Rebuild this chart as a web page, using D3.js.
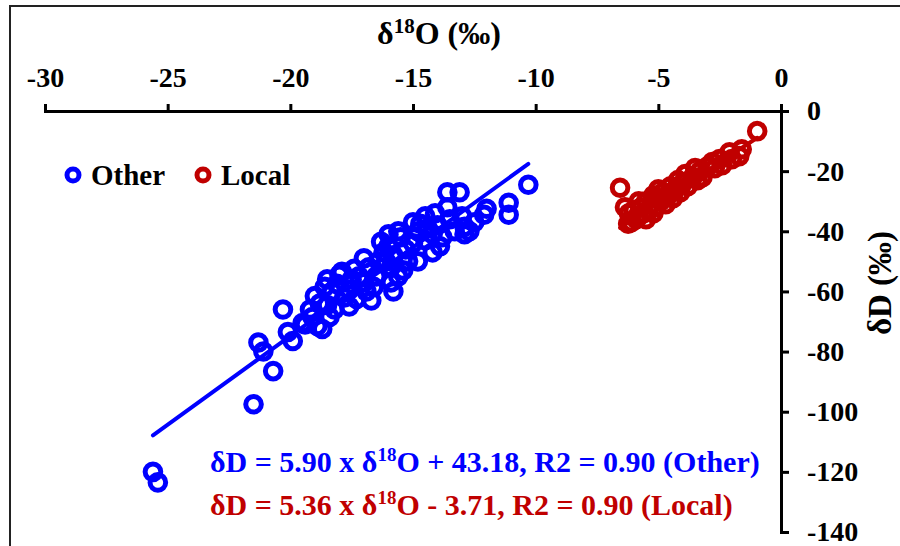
<!DOCTYPE html>
<html>
<head>
<meta charset="utf-8">
<script src="https://cdn.jsdelivr.net/npm/d3@7"></script>
<style>
  body { margin: 0; background: #fff; }
  svg { font-family: "Liberation Serif", "Times New Roman", serif; font-weight: bold; }
  .axis path, .axis line { stroke: #000; stroke-width: 3; }
  .axis text { font-size: 28px; font-weight: bold; fill: #000; font-family: "Liberation Serif", serif; }
</style>
</head>
<body>
<div id="chart"></div>
<script>
'use strict';

// "Other" samples: d18O, dD
const otherX = [-25.6, -25.4, -21.5, -20.7, -21.3, -21.1, -20.3, -20.1, -19.9, -19.5,
  -19.1, -18.7, -19.4, -18.9, -18.4, -18.5, -19.0, -18.6, -18.1, -18.0,
  -17.6, -17.6, -18.2, -17.8, -17.4, -17.2, -17.0, -16.9, -17.3, -16.6,
  -16.5, -16.8, -16.4, -16.2, -16.3, -16.0, -15.8, -15.9, -15.8, -15.6,
  -15.6, -15.5, -15.3, -15.2, -15.0, -15.0, -14.8, -14.8, -14.7, -14.5,
  -14.4, -14.2, -14.0, -13.9, -13.8, -13.6, -13.1, -13.6, -13.5, -13.3,
  -12.9, -12.9, -12.7, -12.1, -12.0, -11.1, -11.1, -10.3, -14.2, -14.5,
  -16.0, -17.0, -17.5, -18.3, -18.8, -19.2, -16.7, -15.9, -15.4, -16.1,
  -17.9, -18.5, -13.0, -12.5, -14.1];
const otherY = [-120, -123.5, -97.5, -86.5, -77, -80, -66, -73.5, -76.5, -70.5,
  -68.5, -72.5, -71, -71.5, -68.5, -64.5, -61.5, -58.5, -57.5, -54.5,
  -59.5, -65, -66, -62, -52.5, -55, -57, -60, -62.5, -58.5,
  -55, -52, -50, -47, -43.5, -45, -48, -52, -60, -55,
  -40, -42, -46, -50, -37, -44, -50, -40, -37.5, -43,
  -39, -41, -38, -45, -42, -27, -27, -32, -36, -40,
  -41, -38.5, -40, -34.5, -32.5, -30.5, -34.5, -24.5, -47, -35,
  -41, -49, -56, -60, -64, -66, -63, -57, -53, -50,
  -53.5, -56, -35, -37, -34];

// "Local" samples: d18O, dD
const localX = [-0.97, -1.6, -1.7, -2.1, -2.5, -2.8, -3.0, -2.7, -3.3, -3.5,
  -3.6, -3.9, -4.0, -4.2, -4.3, -4.5, -4.6, -4.8, -4.9, -5.0,
  -5.1, -5.2, -5.3, -5.4, -5.5, -5.6, -5.7, -5.8, -5.9, -6.0,
  -6.1, -6.23, -6.36, -6.56, -5.5, -5.2, -4.7, -4.4, -3.8, -3.2,
  -2.4, -2.0, -5.8, -6.2, -4.1, -3.4, -5.0];
const localY = [-6.7, -12.7, -15, -13.7, -16, -17, -18.5, -19, -20, -19,
  -22, -21, -24, -23, -26, -25, -28, -27, -30, -29,
  -32, -28, -31, -33, -30, -34, -32, -35, -36, -33,
  -37, -37.5, -32, -25.5, -36, -34, -31, -29, -25, -22,
  -18, -16, -30, -34, -27, -23, -26];

const xTicks = [-30, -25, -20, -15, -10, -5, 0];
const yTicks = [0, -20, -40, -60, -80, -100, -120, -140];

// trendlines: [slope, intercept, r2]
const fitOther = [5.90, 43.18, 0.90];
const fitLocal = [5.36, -3.71, 0.90];

const blue = '#0000ff', red = '#c00000';
const width = 900, height = 546;

const svg = d3.select('#chart').append('svg')
    .attr('width', width)
    .attr('height', height);

// chart frame (cut off at right and bottom)
svg.append('rect')
    .attr('x', 10).attr('y', 6)
    .attr('width', 1000).attr('height', 1000)
    .attr('fill', 'none')
    .attr('stroke', '#222')
    .attr('stroke-width', 2);

const xScale = d3.scaleLinear().domain([-30, 0]).range([45, 781]);
const yScale = d3.scaleLinear().domain([0, -140]).range([111, 532]);

svg.append('g')
    .attr('class', 'axis')
    .attr('transform', `translate(0,${yScale(0)})`)
    .call(d3.axisTop(xScale).tickValues(xTicks).tickSize(7).tickPadding(17).tickFormat(d3.format('d')));

svg.append('g')
    .attr('class', 'axis')
    .attr('transform', `translate(${xScale(0)},0)`)
    .call(d3.axisRight(yScale).tickValues(yTicks).tickSize(8).tickPadding(18).tickFormat(d3.format('d')));

svg.selectAll('.axis text').text(function() { return this.textContent.replace('\u2212', '-'); });

// axis titles
const xTitle = svg.append('text')
    .attr('x', 439).attr('y', 44)
    .attr('text-anchor', 'middle')
    .attr('font-size', 32);
xTitle.append('tspan').text('\u03b4');
xTitle.append('tspan').attr('font-size', 21).attr('dy', -11).text('18');
xTitle.append('tspan').attr('dy', 11).text('O (\u2030)');

svg.append('text')
    .attr('transform', 'translate(891,283) rotate(-90)')
    .attr('text-anchor', 'middle')
    .attr('font-size', 33)
    .text('\u03b4D (\u2030)');

// trendlines
function drawFit(xs, fit, color) {
  const ext = d3.extent(xs);
  svg.append('line')
      .attr('x1', xScale(ext[0])).attr('y1', yScale(fit[0] * ext[0] + fit[1]))
      .attr('x2', xScale(ext[1])).attr('y2', yScale(fit[0] * ext[1] + fit[1]))
      .attr('stroke', color)
      .attr('stroke-width', 4)
      .attr('stroke-linecap', 'round');
}

function drawPoints(xs, ys, color) {
  svg.append('g').selectAll('circle')
      .data(xs.map((x, i) => [x, ys[i]]))
      .enter()
      .append('circle')
      .attr('cx', d => xScale(d[0]))
      .attr('cy', d => yScale(d[1]))
      .attr('r', 7.8)
      .attr('fill', 'none')
      .attr('stroke', color)
      .attr('stroke-width', 5);
}

drawPoints(otherX, otherY, blue);
drawPoints(localX, localY, red);
drawFit(otherX, fitOther, blue);
drawFit(localX, fitLocal, red);

// legend
const legend = [['Other', blue, 73], ['Local', red, 203]];
legend.forEach(function(l) {
  svg.append('circle')
      .attr('cx', l[2]).attr('cy', 175)
      .attr('r', 6)
      .attr('fill', 'none')
      .attr('stroke', l[1])
      .attr('stroke-width', 5);
  svg.append('text')
      .attr('x', l[2] + 18).attr('y', 185)
      .attr('font-size', 29)
      .text(l[0]);
});

// equations
function equation(fit, name, color, y) {
  const sign = fit[1] < 0 ? '- ' : '+ ';
  const t = svg.append('text')
      .attr('x', 210).attr('y', y)
      .attr('font-size', 30)
      .attr('fill', color);
  t.append('tspan').text('\u03b4D = ' + fit[0].toFixed(2) + ' x \u03b4');
  t.append('tspan').attr('font-size', 19).attr('dy', -11).text('18');
  t.append('tspan').attr('dy', 11)
      .text('O ' + sign + Math.abs(fit[1]).toFixed(2) + ', R2 = ' + fit[2].toFixed(2) + ' (' + name + ')');
}
equation(fitOther, 'Other', blue, 472);
equation(fitLocal, 'Local', red, 515);
</script>
</body>
</html>
